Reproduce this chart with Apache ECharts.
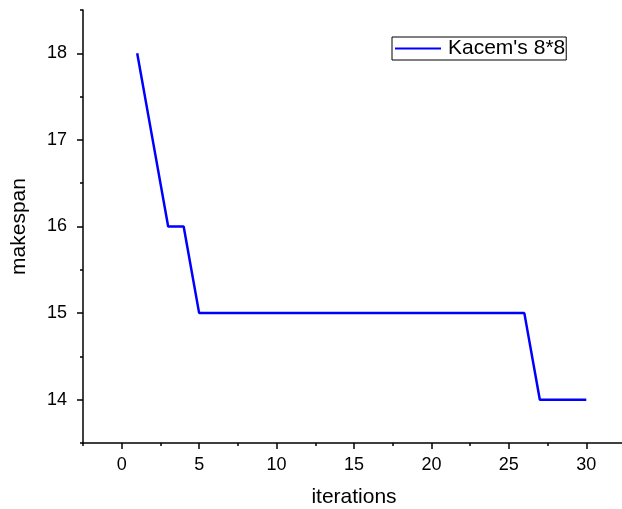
<!DOCTYPE html>
<html><head><meta charset="utf-8">
<script src="https://cdn.jsdelivr.net/npm/echarts@6/dist/echarts.min.js"></script>
<style>html,body{margin:0;padding:0;background:#fff}#c{width:622px;height:509px}</style>
</head><body><div id="c"></div>
<script>
const iterations = [1,2,3,4,5,6,7,8,9,10,11,12,13,14,15,16,17,18,19,20,21,22,23,24,25,26,27,28,29,30];
const makespan = [18,17,16,16,15,15,15,15,15,15,15,15,15,15,15,15,15,15,15,15,15,15,15,15,15,15,14,14,14,14];
const xTicks = [0,5,10,15,20,25,30];
const xMinor = [-2.5,2.5,7.5,12.5,17.5,22.5,27.5,32.5];
const yTicks = [14,15,16,17,18];
const yMinor = [13.5,14.5,15.5,16.5,17.5,18.5];
const seriesName = "Kacem's 8*8";

const font = '"Liberation Sans", Arial, sans-serif';
const axLine = {show:true, onZero:false, lineStyle:{color:'#000', width:1.5}};
const chart = echarts.init(document.getElementById('c'));
chart.setOption({
  animation:false,
  backgroundColor:'#fff',
  grid:{left:83, right:-3, top:10, bottom:66, containLabel:false, outerBoundsMode:'none'},
  legend:{
    left:392, top:37, itemWidth:46, itemHeight:2, itemGap:4,
    padding:[1,1,1,3], borderColor:'#000', borderWidth:1, borderRadius:0,
    icon:'rect',
    textStyle:{fontFamily:font, fontSize:21, color:'#000', padding:[0,0,0,2]},
    data:[seriesName]
  },
  xAxis:[{
    type:'value', min:-2.5, max:32.5,
    name:'iterations', nameLocation:'middle', nameGap:44,
    nameTextStyle:{fontFamily:font, fontSize:21, color:'#000'},
    axisLine:axLine,
    axisTick:{show:true, inside:false, length:6, customValues:xTicks, lineStyle:{color:'#000', width:1.5}},
    axisLabel:{customValues:xTicks, fontFamily:font, fontSize:18, color:'#000', margin:13},
    splitLine:{show:false}
  },{
    type:'value', min:-2.5, max:32.5, position:'bottom',
    axisLine:{show:false, onZero:false},
    axisTick:{show:true, inside:false, length:3, customValues:xMinor, lineStyle:{color:'#000', width:1.5}},
    axisLabel:{show:false, customValues:xMinor},
    splitLine:{show:false}
  }],
  yAxis:[{
    type:'value', min:13.5, max:18.5,
    name:'makespan', nameLocation:'middle', nameGap:53, nameRotate:90,
    nameTextStyle:{fontFamily:font, fontSize:21, color:'#000'},
    axisLine:axLine,
    axisTick:{show:true, inside:false, length:6, customValues:yTicks, lineStyle:{color:'#000', width:1.5}},
    axisLabel:{customValues:yTicks, fontFamily:font, fontSize:18, color:'#000', margin:16},
    splitLine:{show:false}
  },{
    type:'value', min:13.5, max:18.5, position:'left',
    axisLine:{show:false, onZero:false},
    axisTick:{show:true, inside:false, length:3, customValues:yMinor, lineStyle:{color:'#000', width:1.5}},
    axisLabel:{show:false, customValues:yMinor},
    splitLine:{show:false}
  }],
  series:[{
    name:seriesName, type:'line',
    data:iterations.map((x,i)=>[x, makespan[i]]),
    showSymbol:false, symbol:'none',
    lineStyle:{color:'#0000ff', width:2.5},
    itemStyle:{color:'#0000ff'}
  }]
});
</script></body></html>
